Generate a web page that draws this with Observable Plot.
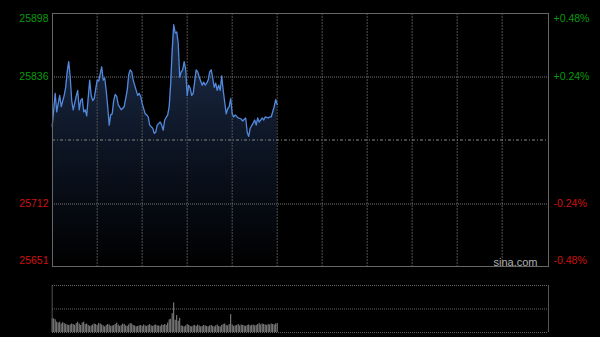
<!DOCTYPE html>
<html><head><meta charset="utf-8">
<script src="https://cdn.jsdelivr.net/npm/d3@7"></script>
<script src="https://cdn.jsdelivr.net/npm/@observablehq/plot@0.6"></script>
<style>
html,body{margin:0;padding:0;background:#000;}
#chart{width:600px;height:337px;overflow:hidden;background:#000;}
#chart svg{display:block;}
</style></head><body><div id="chart"></div>
<script>
// trading minutes since 09:30 (HK session: 150 + 180 minutes)
const minutes = [
  0,2,3,5,6,8,9,10,11,12,
  13,14,16,17,18,19,20,21,22,23,
  25,26,27,28,30,31,33,34,35,36,
  37,38,39,40,41,42,43,44,46,48,
  50,51,52,53,54,56,57,58,59,60,
  62,63,64,65,67,68,69,70,72,73,
  74,75,77,78,79,80,81,82,83,84,
  85,86,87,88,89,90,91,92,93,94,
  96,97,98,100,101,102,103,104,105,106,
  107,108,109,110,111,112,113,114,116,117,
  118,119,120,121,122,124,126,127,129,130,
  131,132,134,135,136,137,138,139,140,141,
  142,144,145,146,148,149,150
];
const prices = [
  25788,25820,25802,25818,25807,25818,25826,25841,25851,25836,
  25813,25804,25817,25823,25804,25813,25815,25802,25804,25798,
  25833,25818,25813,25815,25833,25832,25846,25833,25835,25823,
  25807,25789,25799,25800,25813,25819,25817,25809,25804,25807,
  25823,25838,25843,25841,25833,25823,25818,25820,25817,25810,
  25800,25799,25797,25789,25786,25781,25782,25789,25792,25789,
  25784,25794,25799,25807,25830,25862,25887,25879,25880,25869,
  25836,25841,25843,25851,25843,25818,25828,25825,25818,25820,
  25843,25841,25836,25828,25831,25828,25830,25833,25841,25843,
  25835,25826,25830,25823,25828,25823,25837,25823,25800,25805,
  25807,25815,25800,25797,25799,25796,25795,25793,25796,25782,
  25778,25786,25791,25794,25789,25796,25792,25794,25796,25794,
  25797,25796,25797,25797,25807,25814,25809
];
// volume per minute (relative units, panel top = 100)
const volumes = [
  29,29,27,22,20,22,18,21,19,17,
  16,15,16,18,17,15,19,22,18,15,
  20,22,17,18,15,13,14,16,18,17,
  15,19,18,16,14,12,15,17,16,13,
  14,15,17,20,16,13,15,18,17,14,
  13,16,19,18,15,14,12,13,14,15,
  13,16,14,13,15,17,14,13,15,16,
  14,14,13,16,15,17,15,20,27,28,
  40,63,26,36,24,30,14,13,12,14,
  17,15,13,12,14,15,13,16,14,12,
  13,15,14,13,12,14,15,13,12,14,
  16,13,12,15,17,18,15,14,17,38,
  16,13,14,15,17,14,16,15,14,13,
  15,16,14,15,16,14,15,17,19,16,
  18,17,16,15,17,16,18,17,16,18,
  19
];
const priceTicks = [25898, 25836, 25712, 25651];
const pctLabels = ["+0.48%", "+0.24%", "-0.24%", "-0.48%"];
const prevClose = 25774.5;
const gridMinutes = [30,60,90,120,150,180,210,240,270,300];
const sessionMinutes = [0, 330];
const volGrid = [0, 50, 100];
const watermark = "sina.com";

const series = minutes.map((t, i) => ({t, p: prices[i]}));
const vols = volumes.map((v, i) => ({t: i, v}));
const ticks = priceTicks.map((p, i) => ({p, pct: pctLabels[i], color: p > prevClose ? "#0a9a0a" : "#d01010"}));
const yMin = d3.min(priceTicks), yMax = d3.max(priceTicks);
const font = "Liberation Sans, Arial, sans-serif";
const fs = 10.5;

const gradient = () => {
  const defs = d3.create("svg:defs");
  const g = defs.append("linearGradient").attr("id", "areaGrad")
    .attr("gradientUnits", "userSpaceOnUse").attr("x1", 0).attr("x2", 0).attr("y1", 13).attr("y2", 266);
  g.append("stop").attr("offset", "0").attr("stop-color", "#1f3050");
  g.append("stop").attr("offset", "0.55").attr("stop-color", "#0c1422");
  g.append("stop").attr("offset", "1").attr("stop-color", "#000000");
  return defs.node();
};

const labelCommon = {fontFamily: font, fontSize: fs};
const main = Plot.plot({
  width: 600, height: 275,
  marginLeft: 52, marginRight: 52, marginTop: 13, marginBottom: 9,
  style: {background: "#000", overflow: "visible"},
  x: {domain: sessionMinutes, range: [51.7, 546.7], axis: null},
  y: {domain: [yMin, yMax], axis: null},
  marks: [
    gradient,
    Plot.areaY(series, {x: "t", y1: () => yMin, y2: "p", fill: "url(#areaGrad)"}),
    Plot.ruleX(gridMinutes, {stroke: "#505050", strokeDasharray: "2,1"}),
    Plot.ruleY([priceTicks[1], priceTicks[2]], {stroke: "#777", strokeDasharray: "1,1"}),
    Plot.ruleY([prevClose], {stroke: "#888", strokeDasharray: "3,2,1,2"}),
    Plot.lineY(series, {x: "t", y: "p", stroke: "#5289dc", strokeWidth: 1.3}),
    Plot.frame({stroke: "#666"}),
    // left price labels
    Plot.text(ticks.slice(0, 1), {y: "p", text: d => String(d.p), fill: d => d.color, frameAnchor: "left", textAnchor: "end", lineAnchor: "top", dx: -4, dy: 1.5, ...labelCommon}),
    Plot.text(ticks.slice(1, 3), {y: "p", text: d => String(d.p), fill: d => d.color, frameAnchor: "left", textAnchor: "end", lineAnchor: "middle", dx: -4, ...labelCommon}),
    Plot.text(ticks.slice(3), {y: "p", text: d => String(d.p), fill: d => d.color, frameAnchor: "left", textAnchor: "end", lineAnchor: "bottom", dx: -4, dy: -2.5, ...labelCommon}),
    // right percent labels
    Plot.text(ticks.slice(0, 1), {y: "p", text: "pct", fill: d => d.color, frameAnchor: "right", textAnchor: "start", lineAnchor: "top", dx: 5, dy: 1.5, ...labelCommon}),
    Plot.text(ticks.slice(1, 3), {y: "p", text: "pct", fill: d => d.color, frameAnchor: "right", textAnchor: "start", lineAnchor: "middle", dx: 5, ...labelCommon}),
    Plot.text(ticks.slice(3), {y: "p", text: "pct", fill: d => d.color, frameAnchor: "right", textAnchor: "start", lineAnchor: "bottom", dx: 5, dy: -2.5, ...labelCommon}),
    Plot.text([watermark], {text: d => d, frameAnchor: "bottom-right", textAnchor: "end", lineAnchor: "bottom", dx: -11, dy: -1, fill: "#b0b0b0", fontFamily: font, fontSize: 11})
  ]
});

const vol = Plot.plot({
  width: 600, height: 62,
  marginLeft: 52, marginRight: 52, marginTop: 10, marginBottom: 5,
  style: {background: "#000", overflow: "visible"},
  x: {domain: sessionMinutes, range: [51.7, 546.7], axis: null},
  y: {domain: [0, 100], axis: null},
  marks: [
    Plot.ruleY(volGrid, {stroke: "#666", strokeDasharray: "1,1"}),
    Plot.ruleX(vols, {x: "t", y: "v", stroke: "#8c8c8c", strokeWidth: 1}),
    Plot.ruleX(sessionMinutes.slice(0, 1), {y1: volGrid[0], y2: volGrid[2], stroke: "#555"}),
    Plot.ruleX(sessionMinutes.slice(1), {y1: volGrid[0], y2: volGrid[2], stroke: "#555", dx: 1.3})
  ]
});

const root = document.getElementById("chart");
root.appendChild(main);
root.appendChild(vol);
</script>
</body></html>
